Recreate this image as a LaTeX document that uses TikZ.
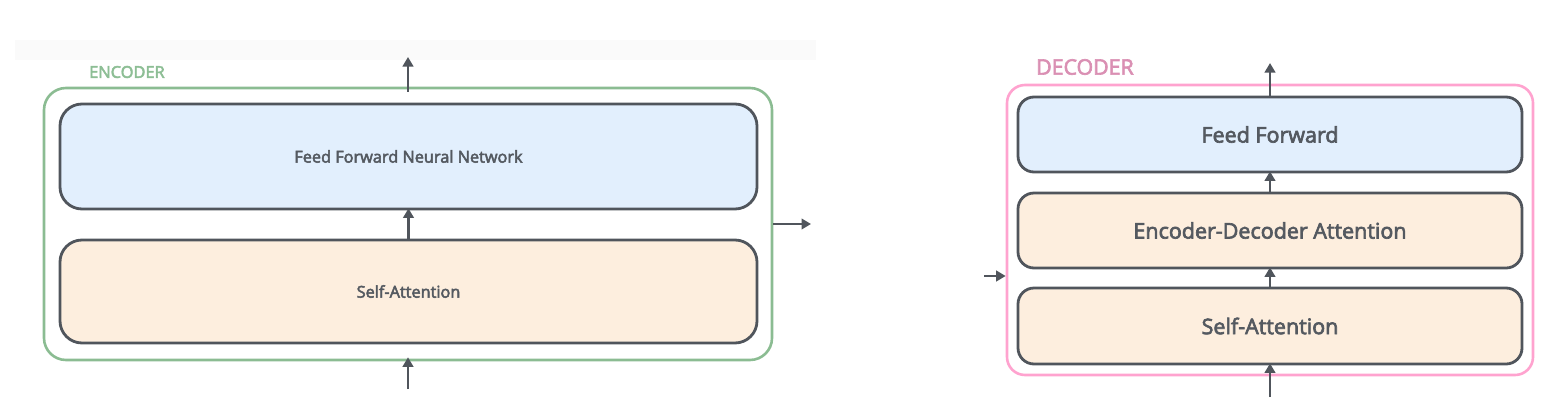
\documentclass[tikz,border=0pt]{standalone}
\usepackage{fontspec}
\setmainfont{Open Sans}[FakeBold=3]
\usetikzlibrary{arrows.meta}
\definecolor{encgreen}{HTML}{8BBC92}
\definecolor{enclabel}{HTML}{8DBE95}
\definecolor{decpink}{HTML}{FFA3CF}
\definecolor{declabel}{HTML}{DA8FB3}
\definecolor{boxline}{HTML}{50555C}
\definecolor{txt}{HTML}{545960}
\definecolor{ffblue}{HTML}{E2EFFD}
\definecolor{attpeach}{HTML}{FDEEDE}
\tikzset{
  outerbox/.style={draw, line width=2.6pt, rounded corners=22pt, inner sep=0pt},
  layerbox/.style={draw=boxline, line width=2.8pt, inner sep=0pt, text=txt, align=center},
  enclayer/.style={layerbox, rounded corners=22pt, minimum width=697pt, font=\fontsize{16.3}{19}\selectfont},
  declayer/.style={layerbox, rounded corners=16pt, minimum width=504pt, minimum height=75pt, font=\fontsize{21.5}{25}\selectfont},
  arr/.style={draw=boxline, line width=2.6pt, -{Triangle[width=10.5pt,length=9.5pt]}},
  lbl/.style={inner sep=0pt, anchor=west}
}
\begin{document}
\begin{tikzpicture}[x=1pt,y=-1pt]
\useasboundingbox (0,0) rectangle (1560,410);
\fill[black!2] (15,40) rectangle (816,60);
% encoder
\node[outerbox, draw=encgreen, minimum width=728pt, minimum height=272pt] (enc) at (408,224) {};
\node[lbl, text=enclabel, font=\fontsize{16.4}{19}\selectfont] (enclbl) at (89,72) {ENCODER};
\node[enclayer, fill=ffblue, minimum height=105pt] (effn) at (408.5,156.5) {Feed Forward Neural Network};
\node[enclayer, fill=attpeach, minimum height=103pt] (esa) at (408.5,291.5) {Self-Attention};
\coordinate (encin) at (408,389);
\coordinate (encout) at (408,57);
\coordinate (encside) at (811,224);
\draw[arr] (encin) -- ([yshift=4pt]enc.south);
\draw[arr] ([yshift=-5pt]enc.north) -- (encout);
\draw[arr] (esa.north) -- ([yshift=2pt]effn.south);
\draw[arr] (enc.east) -- (encside);
% decoder
\node[outerbox, draw=decpink, rounded corners=18pt, minimum width=526pt, minimum height=290pt] (dec) at (1270,230) {};
\node[lbl, text=declabel, font=\fontsize{21.3}{24}\selectfont] (declbl) at (1036,67) {DECODER};
\node[declayer, fill=ffblue] (dff) at (1270,134.5) {Feed Forward};
\node[declayer, fill=attpeach] (ded) at (1270,230.5) {Encoder-Decoder Attention};
\node[declayer, fill=attpeach, minimum height=76pt] (dsa) at (1270,326) {Self-Attention};
\coordinate (decin) at (1270,397);
\coordinate (decout) at (1270,63);
\coordinate (decside) at (984,276);
\draw[arr] (decin) -- ([yshift=2pt]dsa.south);
\draw[arr] (dsa.north) -- ([yshift=2pt]ded.south);
\draw[arr] (ded.north) -- ([yshift=2pt]dff.south);
\draw[arr] (dff.north) -- (decout);
\draw[arr] (decside) -- (decside -| dec.west);
\end{tikzpicture}
\end{document}
